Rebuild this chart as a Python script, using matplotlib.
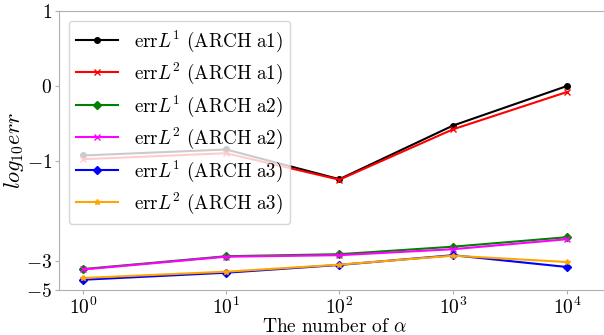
import numpy as np
import matplotlib
matplotlib.use("Agg")
import matplotlib.pyplot as plt

plt.rcParams['mathtext.fontset'] = 'cm'
plt.rcParams['font.family'] = 'serif'
plt.rcParams['font.serif'] = ['DejaVu Serif']

# number of alpha
alpha = [1, 10, 100, 1000, 10000]

# log10 of the errors
l1_a1 = [-0.93, -0.85, -1.37, -0.53, 0.0]
l2_a1 = [-0.98, -0.90, -1.38, -0.58, -0.08]
l1_a2 = [-3.57, -2.91, -2.87, -2.72, -2.53]
l2_a2 = [-3.60, -2.92, -2.89, -2.77, -2.57]
l1_a3 = [-4.30, -3.82, -3.29, -2.89, -3.43]
l2_a3 = [-4.18, -3.75, -3.27, -2.90, -3.09]

labels = [r"$\mathrm{err}L^1\ \mathrm{(ARCH\ a1)}$",
          r"$\mathrm{err}L^2\ \mathrm{(ARCH\ a1)}$",
          r"$\mathrm{err}L^1\ \mathrm{(ARCH\ a2)}$",
          r"$\mathrm{err}L^2\ \mathrm{(ARCH\ a2)}$",
          r"$\mathrm{err}L^1\ \mathrm{(ARCH\ a3)}$",
          r"$\mathrm{err}L^2\ \mathrm{(ARCH\ a3)}$"]

yticks = [1, 0, -1, -3, -5]
xticks = [1, 10, 100, 1000, 10000]


def piecewise(v, xp, fp):
    # linear interpolation with linear extrapolation at both ends
    v = np.asarray(v, dtype=float)
    out = np.interp(v, xp, fp)
    lo = v < xp[0]
    hi = v > xp[-1]
    s0 = (fp[1] - fp[0]) / (xp[1] - xp[0])
    s1 = (fp[-1] - fp[-2]) / (xp[-1] - xp[-2])
    out = np.where(lo, fp[0] + (v - xp[0]) * s0, out)
    out = np.where(hi, fp[-1] + (v - xp[-1]) * s1, out)
    return out


# uneven axes of the original figure
xk = [0, 1, 2, 3, 4]
xs = [0, 148, 265, 382.5, 500.5]
yk = [-5, -3, -1, 0, 1]
ys = [0, 29.3, 129.3, 204, 279]


def xfwd(x):
    return piecewise(np.log10(np.clip(x, 1e-12, None)), xk, xs)


def xinv(p):
    return 10 ** piecewise(p, xs, xk)


def yfwd(y):
    return piecewise(y, yk, ys)


def yinv(p):
    return piecewise(p, ys, yk)


fig = plt.figure(figsize=(6.04, 3.35), dpi=100)
ax = fig.add_axes([59 / 604, 45 / 335, 1.01 - 59 / 604, 1 - 11 / 335 - 45 / 335])
ax.set_xscale('function', functions=(xfwd, xinv))
ax.set_yscale('function', functions=(yfwd, yinv))

ax.plot(alpha, l1_a1, color='black', marker='o', markersize=4, label=labels[0])
ax.plot(alpha, l2_a1, color='red', marker='x', markersize=4, label=labels[1])
ax.plot(alpha, l1_a2, color='green', marker='D', markersize=4, label=labels[2])
ax.plot(alpha, l2_a2, color='magenta', marker='x', markersize=4, label=labels[3])
ax.plot(alpha, l1_a3, color='blue', marker='D', markersize=4, label=labels[4])
ax.plot(alpha, l2_a3, color='orange', marker='*', markersize=4, label=labels[5])

ax.set_xlim(xinv(-25), xinv(545))
ax.set_ylim(-5, 1)
ax.set_xticks(xticks)
ax.set_xticklabels([r"$10^{%d}$" % k for k in range(5)])
ax.set_yticks(yticks)
ax.set_yticklabels([r"$%d$" % t if t >= 0 else r"$-%d$" % -t for t in yticks])
ax.minorticks_off()
ax.tick_params(labelsize=14, length=3, color='#b0b0b0', pad=2)

for s in ax.spines.values():
    s.set_color('#b0b0b0')

ax.set_xlabel(r"$\mathrm{The\ number\ of}\ \alpha$", fontsize=14, labelpad=0)
ax.set_ylabel(r"$log_{10}err$", fontsize=16, labelpad=0)

ax.legend(loc='upper left', fontsize=13.8, framealpha=0.8, labelspacing=0.38,
          borderaxespad=0.5, handlelength=2.2)

fig.savefig("out.png", dpi=100)
